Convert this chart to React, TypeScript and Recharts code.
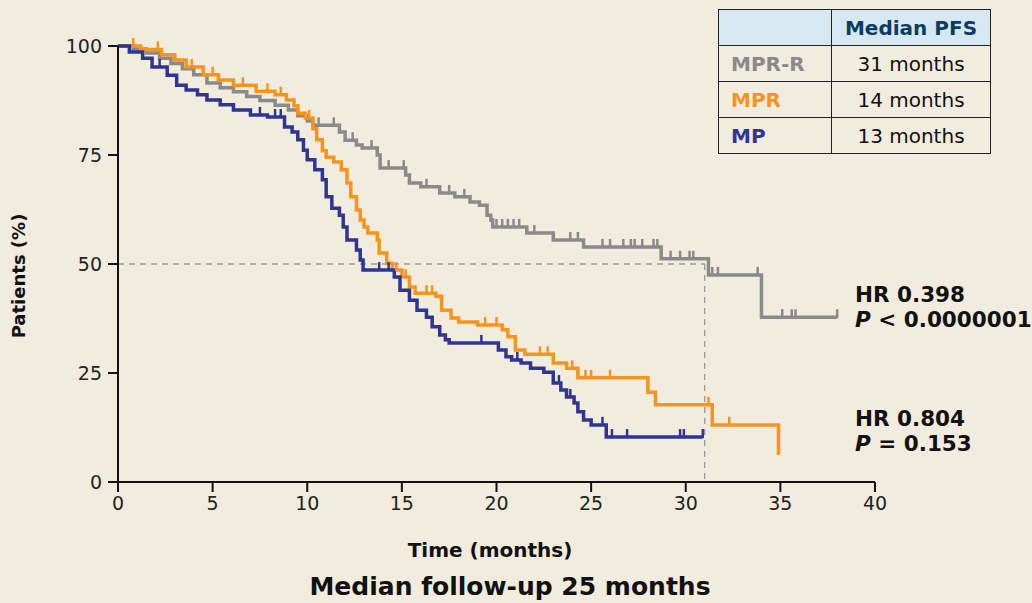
import React from "react";
import { Line, LineChart, ReferenceLine, XAxis, YAxis } from "recharts";

// Kaplan-Meier PFS curves. Each point is an event step (t in months, s = % progression-free);
// c marks a censored patient (drawn as a small vertical tick on the curve).
type KmPoint = { t: number; s: number; c?: boolean };

const xTicks = [0, 5, 10, 15, 20, 25, 30, 35, 40];
const yTicks = [0, 25, 50, 75, 100];
const medianMprR = 31;

const mprrPoints: KmPoint[] = [
  { t: 0, s: 100 }, { t: 0.8, s: 99.3 }, { t: 1.5, s: 98.4 }, { t: 2.2, s: 97.2 }, { t: 2.8, s: 96 },
  { t: 3.4, s: 94.8 }, { t: 4.0, s: 93.4 }, { t: 4.7, s: 91.5 }, { t: 5.4, s: 90.4 }, { t: 6.1, s: 89.5 },
  { t: 6.8, s: 88.4 }, { t: 7.5, s: 87.5 }, { t: 8.3, s: 86.4 }, { t: 9.0, s: 85.3 }, { t: 9.5, s: 84 },
  { t: 10.0, s: 82.8 }, { t: 10.3, s: 81.8 }, { t: 10.6, s: 81.8, c: true }, { t: 11.4, s: 81.8, c: true },
  { t: 11.7, s: 80.3 }, { t: 12.0, s: 78.4 }, { t: 12.4, s: 78.4, c: true }, { t: 12.6, s: 77.3 },
  { t: 12.9, s: 76.6 }, { t: 13.4, s: 76.6, c: true }, { t: 13.7, s: 75.0 }, { t: 13.85, s: 72.0 },
  { t: 14.3, s: 72.0, c: true }, { t: 15.1, s: 72.0, c: true }, { t: 15.2, s: 70.4 }, { t: 15.4, s: 68.6 },
  { t: 16.0, s: 67.7 }, { t: 16.3, s: 67.7, c: true }, { t: 17.0, s: 66.3 }, { t: 17.5, s: 66.3, c: true },
  { t: 17.8, s: 65.4 }, { t: 18.3, s: 65.4, c: true }, { t: 18.6, s: 64.2 }, { t: 19.1, s: 63.5 },
  { t: 19.5, s: 61.2 }, { t: 19.7, s: 60.1 }, { t: 19.8, s: 58.5 }, { t: 20.0, s: 58.5, c: true },
  { t: 20.3, s: 58.5, c: true }, { t: 20.6, s: 58.5, c: true }, { t: 20.9, s: 58.5, c: true },
  { t: 21.2, s: 58.5, c: true }, { t: 21.6, s: 57.1 }, { t: 22.0, s: 57.1, c: true }, { t: 23.0, s: 55.5 },
  { t: 23.9, s: 55.5, c: true }, { t: 24.3, s: 55.5, c: true }, { t: 24.6, s: 53.9 }, { t: 25.6, s: 53.9, c: true },
  { t: 26.0, s: 53.9, c: true }, { t: 26.7, s: 53.9, c: true }, { t: 27.1, s: 53.9, c: true },
  { t: 27.3, s: 53.9, c: true }, { t: 27.7, s: 53.9, c: true }, { t: 28.3, s: 53.9, c: true },
  { t: 28.5, s: 53.9, c: true }, { t: 28.7, s: 51.2 }, { t: 29.2, s: 51.2, c: true }, { t: 29.7, s: 51.2, c: true },
  { t: 30.2, s: 51.2, c: true }, { t: 30.4, s: 51.2, c: true }, { t: 31.2, s: 47.5 }, { t: 31.4, s: 47.5, c: true },
  { t: 31.7, s: 47.5, c: true }, { t: 33.8, s: 47.5, c: true }, { t: 34.0, s: 37.8 }, { t: 35.1, s: 37.8, c: true },
  { t: 35.6, s: 37.8, c: true }, { t: 35.8, s: 37.8, c: true }, { t: 38.0, s: 37.8, c: true },
];

const mprPoints: KmPoint[] = [
  { t: 0, s: 100 }, { t: 0.8, s: 100, c: true }, { t: 1.2, s: 99.2 }, { t: 2.1, s: 99.2, c: true },
  { t: 2.3, s: 98.0 }, { t: 3.0, s: 96.8 }, { t: 3.6, s: 95.2 }, { t: 3.9, s: 95.2, c: true },
  { t: 4.5, s: 93.4 }, { t: 5.0, s: 93.4, c: true }, { t: 5.3, s: 92.2 }, { t: 6.1, s: 91.0 },
  { t: 6.6, s: 91.0, c: true }, { t: 7.3, s: 89.6 }, { t: 7.9, s: 89.6, c: true }, { t: 8.3, s: 88.8 },
  { t: 8.6, s: 88.8, c: true }, { t: 8.9, s: 87.6 }, { t: 9.3, s: 86.3 }, { t: 9.5, s: 84.6 },
  { t: 9.9, s: 83.5 }, { t: 10.1, s: 83.5, c: true }, { t: 10.3, s: 81.0 }, { t: 10.5, s: 78.5 },
  { t: 10.8, s: 76.0 }, { t: 11.0, s: 74.5 }, { t: 11.4, s: 73.4 }, { t: 11.8, s: 71.6 },
  { t: 12.1, s: 68.6 }, { t: 12.3, s: 65.4 }, { t: 12.6, s: 62.4 }, { t: 12.8, s: 60.1 },
  { t: 13.0, s: 58.5 }, { t: 13.2, s: 57.1 }, { t: 13.7, s: 55.5 }, { t: 13.8, s: 52.5 },
  { t: 14.2, s: 50.2 }, { t: 14.5, s: 48.6 }, { t: 14.7, s: 48.6, c: true }, { t: 15.0, s: 47.0 },
  { t: 15.2, s: 47.0, c: true }, { t: 15.4, s: 44.7 }, { t: 15.7, s: 43.3 }, { t: 16.3, s: 43.3, c: true },
  { t: 16.6, s: 43.3, c: true }, { t: 16.8, s: 42.6 }, { t: 17.1, s: 39.4 }, { t: 17.6, s: 37.6 },
  { t: 18.0, s: 36.7 }, { t: 19.0, s: 36.0 }, { t: 19.4, s: 36.0, c: true }, { t: 20.0, s: 36.0, c: true },
  { t: 20.3, s: 34.9 }, { t: 20.6, s: 33.3 }, { t: 21.0, s: 30.3 }, { t: 21.5, s: 29.3 },
  { t: 22.3, s: 29.3, c: true }, { t: 22.7, s: 29.3, c: true }, { t: 23.0, s: 27.3 }, { t: 23.7, s: 26.1 },
  { t: 24.0, s: 26.1, c: true }, { t: 24.3, s: 23.9 }, { t: 24.7, s: 23.9, c: true }, { t: 25.0, s: 23.9, c: true },
  { t: 26.0, s: 23.9, c: true }, { t: 28.0, s: 20.6 }, { t: 28.4, s: 17.7 }, { t: 31.2, s: 17.7, c: true },
  { t: 31.4, s: 13.1 }, { t: 32.3, s: 13.1, c: true }, { t: 34.9, s: 6.2 },
];

const mpPoints: KmPoint[] = [
  { t: 0, s: 100 }, { t: 0.6, s: 98.6 }, { t: 1.3, s: 97.2 }, { t: 1.8, s: 95.2 }, { t: 2.2, s: 95.2, c: true },
  { t: 2.6, s: 93.3 }, { t: 3.1, s: 91.0 }, { t: 3.6, s: 89.9 }, { t: 4.2, s: 88.8 }, { t: 4.7, s: 87.6 },
  { t: 5.4, s: 86.5 }, { t: 6.1, s: 85.3 }, { t: 7.0, s: 84.2 }, { t: 7.5, s: 84.2, c: true },
  { t: 7.9, s: 83.7 }, { t: 8.3, s: 83.7, c: true }, { t: 8.6, s: 83.7, c: true }, { t: 8.8, s: 81.4 },
  { t: 9.2, s: 80.3 }, { t: 9.5, s: 78.5 }, { t: 9.8, s: 76.1 }, { t: 10.0, s: 73.9 }, { t: 10.4, s: 71.6 },
  { t: 10.8, s: 69.3 }, { t: 11.0, s: 65.4 }, { t: 11.3, s: 62.8 }, { t: 11.7, s: 61.2 }, { t: 11.9, s: 58.5 },
  { t: 12.1, s: 55.5 }, { t: 12.6, s: 53.2 }, { t: 12.8, s: 50.9 }, { t: 12.95, s: 48.6 },
  { t: 13.8, s: 48.6, c: true }, { t: 14.3, s: 48.6, c: true }, { t: 14.6, s: 47.0 }, { t: 14.9, s: 44.0 },
  { t: 15.4, s: 41.7 }, { t: 15.8, s: 39.4 }, { t: 16.3, s: 37.8 }, { t: 16.6, s: 35.6 }, { t: 17.0, s: 33.7 },
  { t: 17.3, s: 32.6 }, { t: 17.5, s: 31.9 }, { t: 19.2, s: 31.9, c: true }, { t: 20.1, s: 30.3 },
  { t: 20.5, s: 28.7 }, { t: 20.8, s: 28.0 }, { t: 21.1, s: 28.0, c: true }, { t: 21.3, s: 27.3 },
  { t: 21.8, s: 26.1 }, { t: 22.5, s: 25.2 }, { t: 23.0, s: 22.7 }, { t: 23.3, s: 22.7, c: true },
  { t: 23.4, s: 21.1 }, { t: 23.7, s: 19.5 }, { t: 23.9, s: 19.5, c: true }, { t: 24.1, s: 18.1 },
  { t: 24.3, s: 16.1 }, { t: 24.6, s: 14.2 }, { t: 25.0, s: 13.1 }, { t: 25.6, s: 13.1, c: true },
  { t: 25.8, s: 10.3 }, { t: 26.1, s: 10.3, c: true }, { t: 26.9, s: 10.3, c: true }, { t: 29.7, s: 10.3, c: true },
  { t: 29.9, s: 10.3, c: true }, { t: 30.9, s: 10.3, c: true },
];

const GRAY = "#8a8a8a";
const ORANGE = "#f7941d";
const BLUE = "#2e3592";
const BG = "#f1ecdd";
const FONT = "'DejaVu Sans', Verdana, sans-serif";

const censorDot = (color: string) => (props: any) => {
  const { cx, cy, payload, index } = props;
  if (!payload?.c || cx == null) return <g key={`d${index}`} />;
  return <line key={`d${index}`} x1={cx} x2={cx} y1={cy - 8} y2={cy + 1} stroke={color} strokeWidth={2.5} />;
};

const tableRows = [
  { arm: "MPR-R", color: GRAY, median: "31 months" },
  { arm: "MPR", color: ORANGE, median: "14 months" },
  { arm: "MP", color: BLUE, median: "13 months" },
];

const cell: React.CSSProperties = { border: "1.5px solid #222", height: 35, padding: 0 };

export default function App() {
  return (
    <div style={{ position: "relative", width: 1032, height: 603, background: BG, fontFamily: FONT, overflow: "hidden" }}>
      <style>{"body{margin:0}"}</style>
      <LineChart width={1032} height={603} data={mprrPoints} margin={{ top: 46, right: 157, bottom: 0, left: 0 }}>
        <XAxis
          type="number"
          dataKey="t"
          domain={[0, 40]}
          ticks={xTicks}
          tickSize={10}
          tickMargin={5}
          axisLine={{ stroke: "#111", strokeWidth: 2 }}
          tickLine={{ stroke: "#111", strokeWidth: 2 }}
          tick={{ fontSize: 19, fill: "#222", fontFamily: FONT }}
          height={121}
        />
        <YAxis
          type="number"
          domain={[0, 100]}
          ticks={yTicks}
          tickSize={10}
          tickMargin={6}
          width={118}
          axisLine={{ stroke: "#111", strokeWidth: 2 }}
          tickLine={{ stroke: "#111", strokeWidth: 2 }}
          tick={{ fontSize: 19, fill: "#222", fontFamily: FONT }}
        />
        <ReferenceLine segment={[{ x: 0, y: 50 }, { x: medianMprR, y: 50 }]} stroke="#9a9a9a" strokeDasharray="6 5" strokeWidth={1.3} />
        <ReferenceLine segment={[{ x: medianMprR, y: 50 }, { x: medianMprR, y: 0 }]} stroke="#9a9a9a" strokeDasharray="6 5" strokeWidth={1.3} />
        <Line data={mprrPoints} dataKey="s" type="stepAfter" stroke={GRAY} strokeWidth={3.5} dot={censorDot(GRAY)} activeDot={false} isAnimationActive={false} />
        <Line data={mprPoints} dataKey="s" type="stepAfter" stroke={ORANGE} strokeWidth={3.5} dot={censorDot(ORANGE)} activeDot={false} isAnimationActive={false} />
        <Line data={mpPoints} dataKey="s" type="stepAfter" stroke={BLUE} strokeWidth={3.5} dot={censorDot(BLUE)} activeDot={false} isAnimationActive={false} />
      </LineChart>

      <div style={{ position: "absolute", left: 18, top: 276, transform: "translate(-50%,-50%) rotate(-90deg)", whiteSpace: "nowrap", fontWeight: 700, fontSize: 18, color: "#111" }}>
        Patients (%)
      </div>
      <div style={{ position: "absolute", left: 490, top: 550, transform: "translate(-50%,-50%)", whiteSpace: "nowrap", fontWeight: 700, fontSize: 20, color: "#111" }}>
        Time (months)
      </div>
      <div style={{ position: "absolute", left: 510, top: 586, transform: "translate(-50%,-50%)", whiteSpace: "nowrap", fontWeight: 700, fontSize: 25, color: "#111" }}>
        Median follow-up 25 months
      </div>

      <div style={{ position: "absolute", left: 855, top: 282, fontWeight: 700, fontSize: 21.5, lineHeight: "25px", color: "#111", whiteSpace: "nowrap" }}>
        <div>HR 0.398</div>
        <div><i>P</i> &lt; 0.0000001</div>
      </div>
      <div style={{ position: "absolute", left: 855, top: 406, fontWeight: 700, fontSize: 21.5, lineHeight: "25px", color: "#111", whiteSpace: "nowrap" }}>
        <div>HR 0.804</div>
        <div><i>P</i> = 0.153</div>
      </div>

      <table style={{ position: "absolute", left: 718, top: 9, borderCollapse: "collapse", fontSize: 20, width: 273 }}>
        <tbody>
          <tr style={{ background: "#d6e8f1" }}>
            <td style={{ ...cell, width: 112 }} />
            <td style={{ ...cell, textAlign: "center", fontWeight: 700, color: "#0d3b66" }}>Median PFS</td>
          </tr>
          {tableRows.map((r) => (
            <tr key={r.arm}>
              <td style={{ ...cell, paddingLeft: 12, fontWeight: 700, color: r.color }}>{r.arm}</td>
              <td style={{ ...cell, textAlign: "center", color: "#111" }}>{r.median}</td>
            </tr>
          ))}
        </tbody>
      </table>
    </div>
  );
}
